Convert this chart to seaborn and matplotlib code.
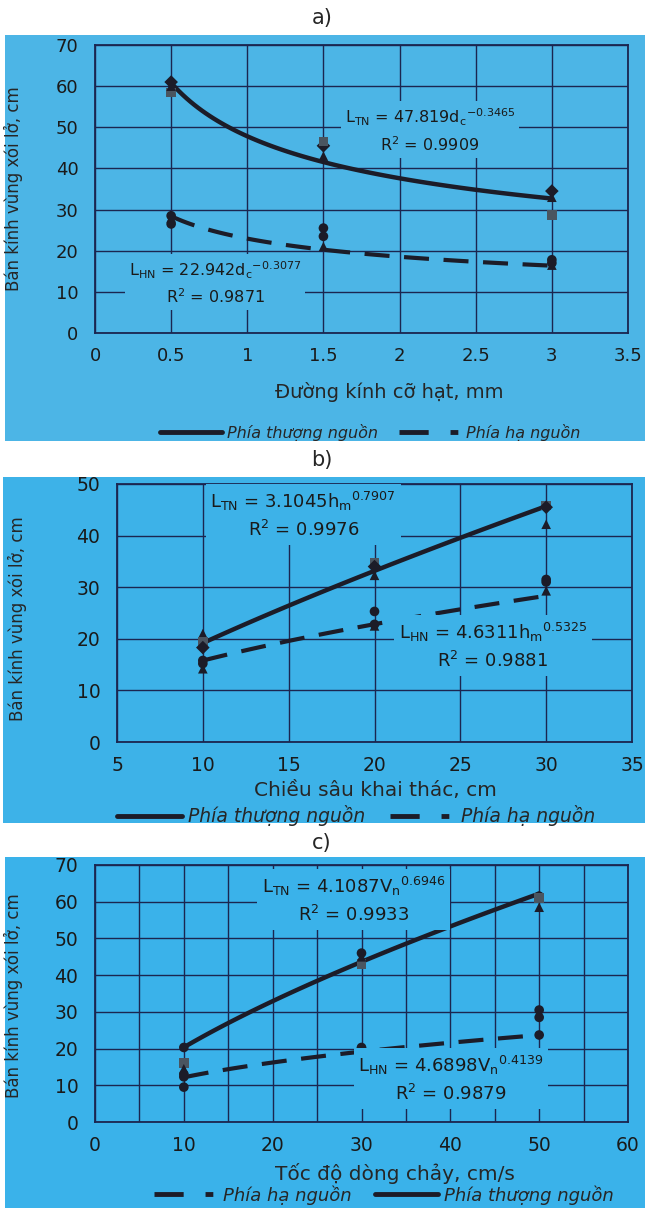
import numpy as np
import pandas as pd
import matplotlib
matplotlib.use("Agg")
import matplotlib.pyplot as plt
from matplotlib.lines import Line2D
from matplotlib.patches import Rectangle
from matplotlib.ticker import MultipleLocator, FuncFormatter
import seaborn as sns

sns.set_style("white")
plt.rcParams["font.family"] = ["DejaVu Sans"]
plt.rcParams["mathtext.fontset"] = "custom"
plt.rcParams["mathtext.rm"] = "DejaVu Sans"
plt.rcParams["axes.unicode_minus"] = False

# ---- data ----
# a) particle diameter, mm
d_x = [0.5, 1.5, 3]
a_tn_diamond = [61, 45.5, 34.5]
a_tn_square = [58.5, 46.5, 28.7]
a_tn_triangle = [60, 43, 33]
a_hn_circle1 = [28.5, 25.5, 17.8]
a_hn_circle2 = [26.5, 23.5, 17]
a_hn_triangle = [28, 21, 16.5]
a_fit_tn = [47.819, -0.3465]
a_fit_hn = [22.942, -0.3077]

# b) mining depth, cm
h_x = [10, 20, 30]
b_tn_triangle = [21, 32.3, 42.2]
b_tn_square = [19.5, 34.8, 45.8]
b_tn_diamond = [18.3, 34, 45.5]
b_hn_circle1 = [15.8, 25.3, 31.5]
b_hn_circle2 = [15.2, 22.8, 31]
b_hn_triangle = [14.2, 22.5, 29.3]
b_fit_tn = [3.1045, 0.7907]
b_fit_hn = [4.6311, 0.5325]

# c) flow velocity, cm/s
v_x = [10, 30, 50]
c_tn_circle = [20.3, 46, 61.5]
c_tn_square = [16, 43, 61]
c_tn_triangle = [14.5, 45, 58.5]
c_hn_circle1 = [13, 20.3, 30.5]
c_hn_circle2 = [12.3, 20, 28.5]
c_hn_circle3 = [9.5, 19.8, 23.7]
c_fit_tn = [4.1087, 0.6946]
c_fit_hn = [4.6898, 0.4139]

ylabel = "Bán kính vùng xói lở, cm"
lbl_tn = "Phía thượng nguồn"
lbl_hn = "Phía hạ nguồn"

W, H = 645, 1208
fig = plt.figure(figsize=(W / 100, H / 100), dpi=100)

GRID = "#1b2650"
INK = "#1c1c28"
SQ = "#4a5560"
DASH = (0, (6, 3.5))


def px_axes(l, r, t, b):
    return fig.add_axes([l / W, 1 - b / H, (r - l) / W, (b - t) / H])


def blue_box(l, r, t, b, color):
    fig.patches.append(Rectangle((l / W, 1 - b / H), (r - l) / W, (b - t) / H,
                                 transform=fig.transFigure, facecolor=color,
                                 edgecolor="none", zorder=-5))
    return color


def make_points(x, series):
    frames = []
    for name, vals in series.items():
        frames.append(pd.DataFrame({"x": x, "y": vals, "m": name}))
    return pd.concat(frames)


def draw_panel(ax, x, series, markers, fit_tn, fit_hn, xlim, ylim, xmajor, xgrid, tsize):
    ax.set_facecolor("none")
    pts = make_points(x, series)
    palette = {k: (SQ if markers[k] == "s" else INK) for k in series}
    sns.scatterplot(data=pts, x="x", y="y", style="m", hue="m", markers=markers,
                    palette=palette, s=48, edgecolor="none", legend=False, ax=ax, zorder=4)
    xs = np.linspace(min(x), max(x), 100)
    ax.plot(xs, fit_tn[0] * xs ** fit_tn[1], color=INK, lw=3.2, zorder=3,
            solid_capstyle="round")
    ax.plot(xs, fit_hn[0] * xs ** fit_hn[1], color=INK, lw=3.0, ls=DASH, zorder=3)
    ax.set_xlim(*xlim)
    ax.set_ylim(*ylim)
    ax.xaxis.set_major_locator(MultipleLocator(xmajor))
    ax.xaxis.set_minor_locator(MultipleLocator(xgrid))
    ax.xaxis.set_major_formatter(FuncFormatter(lambda v, p: f"{v:g}"))
    ax.yaxis.set_major_locator(MultipleLocator(10))
    ax.grid(True, which="both", axis="x", color=GRID, lw=1.0)
    ax.grid(True, which="major", axis="y", color=GRID, lw=1.0)
    ax.set_axisbelow(True)
    ax.tick_params(length=0, labelsize=tsize, colors="#1a1a1a")
    ax.tick_params(axis="x", pad=10)
    ax.tick_params(axis="y", pad=12)
    for sp in ax.spines.values():
        sp.set_color(GRID)
        sp.set_linewidth(1.3)
    ax.set_xlabel("")
    ax.set_ylabel("")


def eq_text(ax, x, y, txt, bg, size):
    ax.text(x, y, txt, ha="center", va="center", multialignment="center",
            fontsize=size, color="#1a1a1a", linespacing=1.45, zorder=5,
            bbox=dict(boxstyle="square,pad=0.25", facecolor=bg, edgecolor="none"))


def legend(x, y, order, size, hlen):
    h_tn = Line2D([], [], color=INK, lw=3.5)
    h_hn = Line2D([], [], color=INK, lw=3.5, ls=(0, (6, 4.5, 1.6, 10)))
    hs = [h_tn, h_hn] if order == "tn" else [h_hn, h_tn]
    ls = [lbl_tn, lbl_hn] if order == "tn" else [lbl_hn, lbl_tn]
    fig.legend(hs, ls, loc="center", bbox_to_anchor=(x / W, 1 - y / H), ncol=2,
               frameon=False, handlelength=hlen, columnspacing=1.3, handletextpad=0.3,
               prop={"style": "italic", "size": size})


# ---- panel a ----
fig.text(322 / W, 1 - 18 / H, "a)", ha="center", va="center", fontsize=15)
bg = blue_box(5, 645, 35, 441, "#4cb5e6")
ax = px_axes(95, 628, 45, 333)
draw_panel(ax, d_x,
           {"dia": a_tn_diamond, "sq": a_tn_square, "tri": a_tn_triangle,
            "c1": a_hn_circle1, "c2": a_hn_circle2, "tri2": a_hn_triangle},
           {"dia": "D", "sq": "s", "tri": "^", "c1": "o", "c2": "o", "tri2": "^"},
           a_fit_tn, a_fit_hn, (0, 3.5), (0, 70), 0.5, 0.5, 13)
eq_text(ax, 2.2, 49.3, r"$\mathregular{L_{TN}}$ = 47.819$\mathregular{d_c{}^{-0.3465}}$" + "\n" + r"$\mathregular{R^2}$ = 0.9909", bg, 11.5)
eq_text(ax, 0.79, 12.2, r"$\mathregular{L_{HN}}$ = 22.942$\mathregular{d_c{}^{-0.3077}}$" + "\n" + r"$\mathregular{R^2}$ = 0.9871", bg, 11.5)
ax.set_ylabel(ylabel, fontsize=12)
ax.yaxis.set_label_coords(-0.135, 0.5)
ax.set_xlabel("Đường kính cỡ hạt, mm", fontsize=14)
ax.xaxis.set_label_coords(0.553, -0.17)
legend(370, 432, "tn", 11.5, 3.9)

# ---- panel b ----
fig.text(322 / W, 1 - 460 / H, "b)", ha="center", va="center", fontsize=15)
bg = blue_box(3, 645, 477, 823, "#3db2e8")
ax = px_axes(117, 632, 484, 742)
draw_panel(ax, h_x,
           {"tri": b_tn_triangle, "sq": b_tn_square, "dia": b_tn_diamond,
            "c1": b_hn_circle1, "c2": b_hn_circle2, "tri2": b_hn_triangle},
           {"dia": "D", "sq": "s", "tri": "^", "c1": "o", "c2": "o", "tri2": "^"},
           b_fit_tn, b_fit_hn, (5, 35), (0, 50), 5, 5, 13.5)
eq_text(ax, 15.85, 44.0, r"$\mathregular{L_{TN}}$ = 3.1045$\mathregular{h_m{}^{0.7907}}$" + "\n" + r"$\mathregular{R^2}$ = 0.9976", bg, 13)
eq_text(ax, 26.9, 18.6, r"$\mathregular{L_{HN}}$ = 4.6311$\mathregular{h_m{}^{0.5325}}$" + "\n" + r"$\mathregular{R^2}$ = 0.9881", bg, 13)
ax.set_ylabel(ylabel, fontsize=12)
ax.yaxis.set_label_coords(-0.175, 0.48)
ax.set_xlabel("Chiều sâu khai thác, cm", fontsize=14.5)
ax.xaxis.set_label_coords(0.502, -0.15)
legend(356, 816, "tn", 13.5, 3.5)

# ---- panel c ----
fig.text(322 / W, 1 - 843 / H, "c)", ha="center", va="center", fontsize=15)
bg = blue_box(5, 645, 857, 1208, "#3ab2ea")
ax = px_axes(95, 628, 865, 1122)
draw_panel(ax, v_x,
           {"ci": c_tn_circle, "sq": c_tn_square, "tri": c_tn_triangle,
            "c1": c_hn_circle1, "c2": c_hn_circle2, "c3": c_hn_circle3},
           {"ci": "o", "sq": "s", "tri": "^", "c1": "o", "c2": "o", "c3": "o"},
           c_fit_tn, c_fit_hn, (0, 60), (0, 70), 10, 5, 13.5)
eq_text(ax, 29.1, 60.5, r"$\mathregular{L_{TN}}$ = 4.1087$\mathregular{V_n{}^{0.6946}}$" + "\n" + r"$\mathregular{R^2}$ = 0.9933", bg, 13)
eq_text(ax, 40.1, 11.7, r"$\mathregular{L_{HN}}$ = 4.6898$\mathregular{V_n{}^{0.4139}}$" + "\n" + r"$\mathregular{R^2}$ = 0.9879", bg, 13)
ax.set_ylabel(ylabel, fontsize=12)
ax.yaxis.set_label_coords(-0.135, 0.49)
ax.set_xlabel("Tốc độ dòng chảy, cm/s", fontsize=14.5)
ax.xaxis.set_label_coords(0.562, -0.16)
legend(384, 1195, "hn", 13, 3.5)

fig.savefig("out.png", dpi=100, facecolor="white")
